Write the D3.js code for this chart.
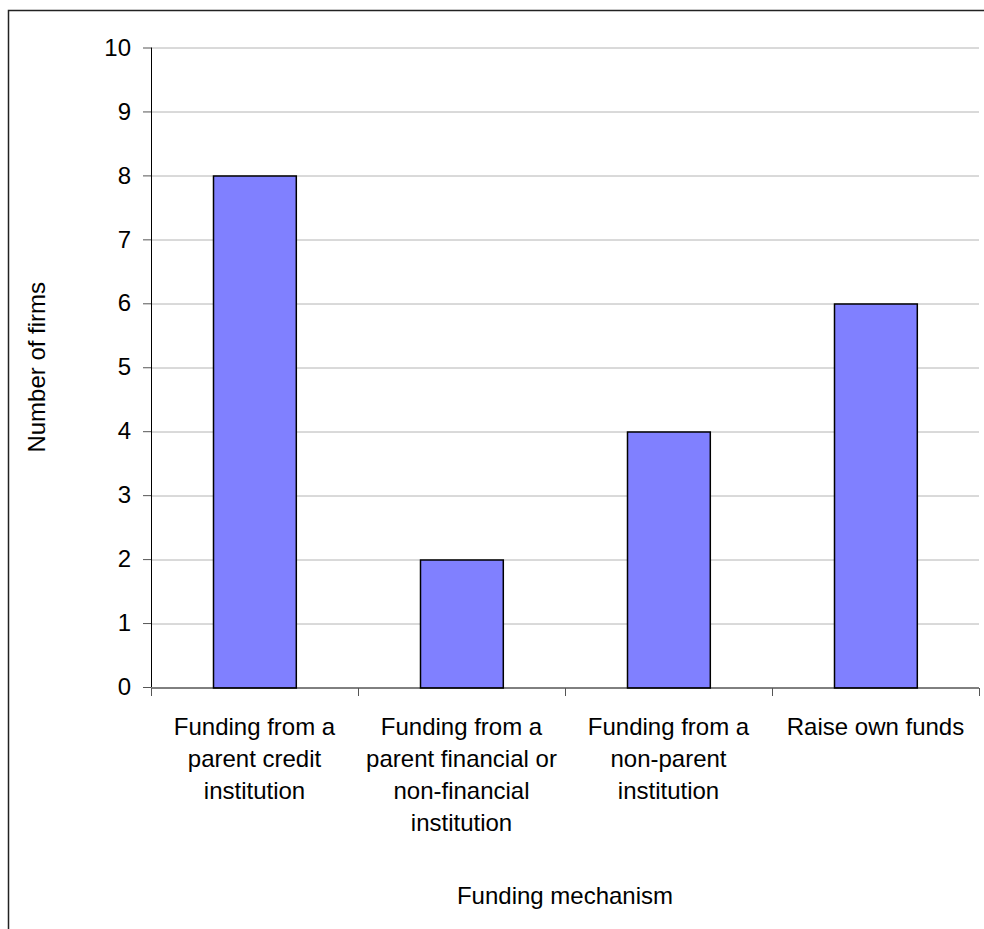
<!DOCTYPE html>
<html>
<head>
<meta charset="utf-8">
<script src="https://cdn.jsdelivr.net/npm/d3@7"></script>
<style>
  body { margin: 0; background: #fff; }
  text { font-family: "Liberation Sans", Arial, sans-serif; fill: #000; }
</style>
</head>
<body>
<div id="chart"></div>
<script>
// data
const categories = [
  "Funding from a parent credit institution",
  "Funding from a parent financial or non-financial institution",
  "Funding from a non-parent institution",
  "Raise own funds"
];
// label lines as wrapped in the original
const category_lines = [
  ["Funding from a", "parent credit", "institution"],
  ["Funding from a", "parent financial or", "non-financial", "institution"],
  ["Funding from a", "non-parent", "institution"],
  ["Raise own funds"]
];
const values = [8, 2, 4, 6];
const y_ticks = [0, 1, 2, 3, 4, 5, 6, 7, 8, 9, 10];

const width = 984;
const height = 929;
const margin = {top: 47.5, right: 5, bottom: 242, left: 151};
const chart_width = width - margin.left - margin.right;
const chart_height = height - margin.top - margin.bottom;
const font_size = 24;

const svg_root = d3.select("#chart")
    .append("svg")
    .attr("width", width)
    .attr("height", height);

// outer frame (runs off the right/bottom edge like the source)
svg_root.append("rect")
    .attr("x", 8.5)
    .attr("y", 10.5)
    .attr("width", width + 20)
    .attr("height", height + 20)
    .attr("fill", "none")
    .attr("stroke", "#222")
    .attr("stroke-width", 1.5);

const svg = svg_root.append("g")
    .attr("transform", `translate(${margin.left}, ${margin.top})`);

const x_scale = d3.scaleBand()
    .domain(categories)
    .range([0, chart_width])
    .paddingInner(0.6)
    .paddingOuter(0.3);

const y_scale = d3.scaleLinear()
    .domain([0, 10])
    .range([chart_height, 0]);

const step = x_scale.step();

// gridlines
svg.append("g")
    .selectAll("line")
    .data(y_ticks.filter(d => d > 0))
    .enter()
    .append("line")
    .attr("x1", 0)
    .attr("x2", chart_width)
    .attr("y1", d => Math.round(y_scale(d)) + 0.5)
    .attr("y2", d => Math.round(y_scale(d)) + 0.5)
    .attr("stroke", "#b4b4b4")
    .attr("stroke-width", 1);

// bars
svg.selectAll(".bar")
    .data(categories)
    .enter()
    .append("rect")
    .attr("class", "bar")
    .attr("x", d => Math.round(x_scale(d)) + 0.5)
    .attr("y", (d, i) => Math.round(y_scale(values[i])) + 0.5)
    .attr("width", x_scale.bandwidth())
    .attr("height", (d, i) => Math.round(chart_height - y_scale(values[i])))
    .attr("fill", "#8080ff")
    .attr("stroke", "#000")
    .attr("stroke-width", 1.5);

// y axis
const y_axis = d3.axisLeft(y_scale)
    .tickValues(y_ticks)
    .tickSize(8)
    .tickPadding(12)
    .tickFormat(d3.format("d"));

const gy = svg.append("g")
    .attr("class", "y axis")
    .call(y_axis);
gy.select(".domain").attr("stroke", "#000").attr("d", `M0.5,0V${chart_height}`);
gy.selectAll(".tick line").attr("stroke", "#555");
gy.selectAll(".tick text")
    .attr("font-size", font_size)
    .attr("font-family", "Liberation Sans, Arial, sans-serif");

// x axis with ticks on category boundaries
const gx = svg.append("g")
    .attr("class", "x axis")
    .attr("transform", `translate(0, ${Math.round(chart_height) + 0.5})`);
gx.append("line")
    .attr("x1", 0)
    .attr("x2", chart_width)
    .attr("stroke", "#000");
const bounds = categories.map(c => x_scale(c) - step * 0.3).concat([chart_width]);
gx.selectAll(".xtick")
    .data(bounds)
    .enter()
    .append("line")
    .attr("class", "xtick")
    .attr("x1", d => Math.round(d) + 0.5)
    .attr("x2", d => Math.round(d) + 0.5)
    .attr("y1", 0)
    .attr("y2", 8)
    .attr("stroke", "#555");

// category labels
gx.selectAll(".xlabel")
    .data(categories)
    .enter()
    .append("text")
    .attr("class", "xlabel")
    .attr("text-anchor", "middle")
    .attr("font-size", font_size)
    .attr("transform", d => `translate(${x_scale(d) + x_scale.bandwidth() / 2}, 0)`)
    .selectAll("tspan")
    .data((d, i) => category_lines[i])
    .enter()
    .append("tspan")
    .attr("x", 0)
    .attr("y", (d, i) => 47 + i * 32)
    .text(d => d);

// axis titles
svg.append("text")
    .attr("text-anchor", "middle")
    .attr("font-size", font_size)
    .attr("transform", `translate(${45 - margin.left}, ${chart_height / 2}) rotate(-90)`)
    .text("Number of firms");

svg.append("text")
    .attr("text-anchor", "middle")
    .attr("font-size", font_size)
    .attr("x", chart_width / 2)
    .attr("y", 904 - margin.top)
    .text("Funding mechanism");
</script>
</body>
</html>
